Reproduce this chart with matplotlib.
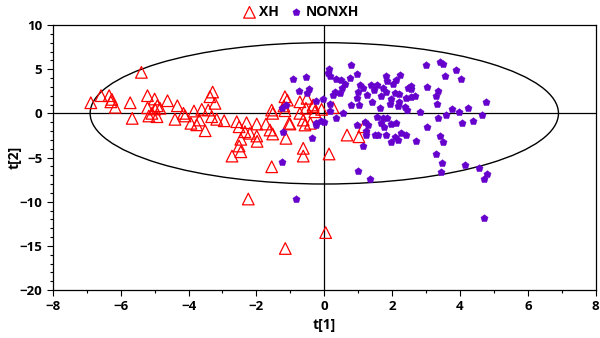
import matplotlib
matplotlib.use("Agg")
import matplotlib.pyplot as plt
from matplotlib.patches import Ellipse
from matplotlib.ticker import MultipleLocator

plt.rcParams['font.family'] = ['Open Sans', 'DejaVu Sans']

xh_x = [-5.39, -6.88, -6.58, -6.34, -6.26, -6.29, -6.16, -5.72, -5.66, -5.21, -5.0, -4.62, -5.21, -4.92,
        -4.84, -4.99, -5.08, -5.17, -4.93, -4.33, -4.15, -4.1, -4.4, -3.84, -3.93, -3.76,
        -3.29, -3.37, -3.22, -3.61, -3.42, -3.32, -3.17, -2.95, -3.68, -3.51,
        -2.58, -2.29, -1.99, -1.72, -2.51, -2.34, -2.19, -2.46, -1.99, -1.98, -2.51, -2.46, -2.72,
        -1.6, -1.52, -1.55, -1.55, -1.52, -1.16, -1.09, -1.19, -1.16, -1.01, -1.13, -0.72, -0.51,
        -0.54, -0.72, -0.62, -0.57, -0.33, -0.28, -0.08, -0.62, -0.62, 0.14, -0.33, 0.26, -1.04,
        -0.41, 0.67, 1.02, 1.16, -2.24, -1.15, 0.04]
xh_y = [4.64, 1.2, 2.0, 2.0, 1.58, 1.3, 0.68, 1.2, -0.57, 2.0, 1.62, 1.43, 0.63, 0.86,
        0.57, 0.49, 0.0, -0.3, -0.38, 0.86, 0.0, -0.3, -0.68, 0.26, -1.13, -1.3,
        2.41, 1.88, 1.13, 0.45, 0.37, -0.38, -0.68, -0.84, -0.76, -1.97,
        -0.95, -1.06, -1.21, -1.21, -1.52, -2.08, -2.26, -2.94, -2.57, -3.17, -3.7, -4.35, -4.84,
        -1.89, -2.34, -6.05, 0.37, 0.0, 1.88, 1.5, 0.83, 0.3, -1.21, -2.83, 1.31, 1.7,
        0.57, 0.0, -0.76, -1.32, 0.75, 0.18, 0.45, -3.96, -4.84, -4.6, 0.94, 0.64, -1.13,
        -1.13, -2.46, -2.65, -1.52, -9.7, -15.3, -13.5]

non_x = [-0.92, -0.55, -0.74, -0.51, -0.45, -0.23, -0.04, -1.13, -1.26, -0.23, -0.11, 0.0, -1.21, -0.35,
         -1.24, -0.84, -0.25,
         0.14, 0.11, 0.16, 0.34, 0.5, 0.8, 0.97, 0.77, 0.6, 0.53, 0.31, 0.26, 0.46, 1.04, 0.99, 1.14,
         1.39, 1.55, 1.26, 1.46, 1.83, 1.85, 2.22, 2.12, 2.02, 1.73, 1.83, 1.68, 2.07, 1.98, 2.2, 2.46,
         0.97, 0.8, 1.02, 1.42, 1.63, 1.93, 2.2, 2.37, 2.4, 0.16, 0.18, 0.55, 0.34, 1.54, 1.73, 1.85,
         1.19, 0.97, 1.29, 1.68, 1.98, 2.1, 1.75, 1.22, 1.24, 1.49, 1.58, 1.83, 2.07, 2.27, 2.42, 2.17,
         1.98, 1.14, 0.99, 1.34,
         2.99, 3.42, 3.49, 3.87, 3.57, 4.03, 2.56, 2.56, 3.02, 3.35, 3.3, 2.66, 2.54, 2.17, 2.44, 2.83,
         3.33, 4.75, 3.77, 3.96, 4.23, 4.65, 3.59, 3.35, 4.06, 4.38, 3.02, 2.69, 3.4, 3.51, 3.3, 3.48,
         3.45, 4.16, 4.55, 4.79, 4.72, 4.72]
non_y = [3.85, 4.08, 2.56, 2.33, 2.72, 1.39, 1.59, 0.94, 0.57, -1.13, -0.84, -0.95, -2.08, -2.8,
         -5.48, -9.74, -1.32,
         5.01, 4.53, 4.26, 3.88, 3.77, 5.47, 4.45, 3.96, 3.28, 2.83, 2.38, 2.07, 2.26, 3.2, 2.45, 2.83,
         3.2, 3.2, 2.07, 2.64, 4.26, 3.66, 4.34, 3.77, 3.28, 2.83, 2.45, 2.0, 2.26, 1.62, 2.15, 2.83,
         1.77, 0.94, 0.94, 1.31, 0.64, 1.02, 1.31, 0.75, 1.77, 1.02, 0.26, 0.0, -0.57, -0.38, -0.57, -0.49,
         -0.95, -1.32, -1.32, -1.13, -1.25, -1.06, -1.52, -2.0, -2.46, -2.46, -2.46, -2.46, -2.65, -2.2, -2.46, -3.02,
         -3.29, -3.67, -6.53, -7.44,
         5.47, 5.78, 5.55, 4.9, 4.26, 3.88, 3.13, 2.75, 3.01, 2.53, 2.0, 2.0, 1.88, 0.86, 0.37, 0.11,
         1.02, 1.31, 0.45, 0.11, 0.57, -0.19, -0.19, -0.57, -1.06, -0.87, -1.52, -3.14, -2.54, -3.21, -4.61, -5.66,
         -6.68, -5.85, -6.23, -6.87, -7.44, -11.87]

ellipse_a = 6.9
ellipse_b = 8.0

fig = plt.figure(figsize=(6.0, 3.38), dpi=100)
ax = fig.add_axes([0.088, 0.142, 0.905, 0.784])

ax.add_patch(Ellipse((0, 0), 2 * ellipse_a, 2 * ellipse_b, fill=False, edgecolor='black', lw=1.0))
ax.axhline(0, color='black', lw=0.9, zorder=1)
ax.axvline(0, color='black', lw=0.9, zorder=1)

ax.scatter(xh_x, xh_y, marker='^', s=70, facecolors='none', edgecolors='#FF0000', linewidths=0.9,
           label='XH', zorder=3)
ax.scatter(non_x, non_y, marker='p', s=30, color='#6600CC', edgecolors='#6600CC', linewidths=0.3,
           label='NONXH', zorder=3)

ax.set_xlim(-8, 8)
ax.set_ylim(-20, 10)
ax.xaxis.set_major_locator(MultipleLocator(2))
ax.xaxis.set_minor_locator(MultipleLocator(1))
ax.yaxis.set_major_locator(MultipleLocator(5))
ax.yaxis.set_minor_locator(MultipleLocator(1))
ax.tick_params(which='major', direction='out', length=4, width=0.8, labelsize=9.5)
ax.tick_params(which='minor', direction='out', length=2, width=0.8)
for lab in ax.get_xticklabels() + ax.get_yticklabels():
    lab.set_fontweight('bold')
ax.set_xlabel('t[1]', fontsize=10, fontweight='bold', labelpad=3)
ax.set_ylabel('t[2]', fontsize=10, fontweight='bold')
ax.yaxis.set_label_coords(-0.058, 0.5)
for sp in ax.spines.values():
    sp.set_linewidth(0.9)

fig.legend(loc='upper center', bbox_to_anchor=(0.5, 1.01), ncol=2, frameon=False,
           prop={'weight': 'bold', 'size': 10}, handletextpad=0.1, columnspacing=0.6,
           handlelength=1.2, borderaxespad=0.2)

fig.savefig('out.png', dpi=100)
